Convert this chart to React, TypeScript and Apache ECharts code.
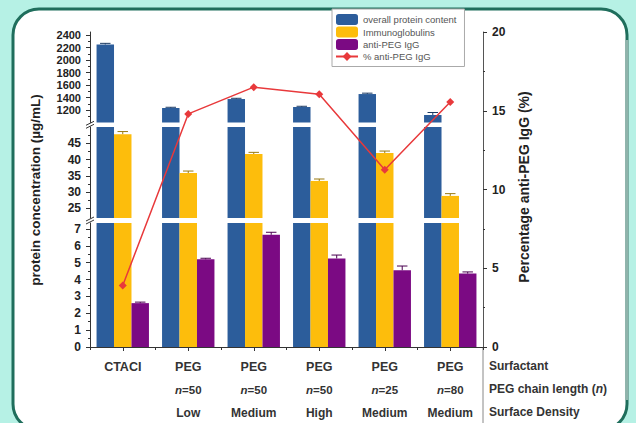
import React, { useEffect, useRef } from "react";
import * as echarts from "echarts";

// Category rows shown under the x axis
const surfactants = ["CTACI", "PEG", "PEG", "PEG", "PEG", "PEG"];
const chainLengths = ["", "50", "50", "50", "25", "80"];
const surfaceDensities = ["", "Low", "Medium", "High", "Medium", "Medium"];

// Protein concentrations (µg/mL)
const overallProtein = [2250, 1232, 1376, 1248, 1456, 1120];
const overallProteinErr = [18, 12, 12, 12, 14, 40];
const immunoglobulins = [47.8, 35.85, 41.7, 33.4, 42.0, 28.8];
const immunoglobulinsErr = [0.8, 0.6, 0.5, 0.6, 0.6, 0.7];
const antiPegIgG = [2.6, 5.2, 6.65, 5.25, 4.55, 4.35];
const antiPegIgGErr = [0.06, 0.06, 0.15, 0.2, 0.25, 0.1];

// Share of anti-PEG IgG (%)
const antiPegPercent = [3.9, 14.8, 16.5, 16.05, 11.25, 15.55];

// Tick values of the three left-axis segments
const upperTicks = [1200, 1400, 1600, 1800, 2000, 2200, 2400];
const upperMinor = [1100, 1300, 1500, 1700, 1900, 2100, 2300];
const middleTicks = [25, 30, 35, 40, 45];
const middleMinor = [27.5, 32.5, 37.5, 42.5, 47.5];
const lowerTicks = [0, 1, 2, 3, 4, 5, 6, 7];
const lowerMinor = [0.5, 1.5, 2.5, 3.5, 4.5, 5.5, 6.5];

const FONT = "'Liberation Sans', Arial, sans-serif";
const BLUE = "#2c5d9b";
const GOLD = "#fdbd0c";
const PURPLE = "#7b0a83";
const RED = "#e8393b";
const AXIS = "#333";

const GRID_LEFT = 90;
const GRID_RIGHT = 153;

// Three stacked segments of the broken left axis + one full-height grid
const segments = [
  { top: 32, height: 90.5, min: 1000, max: 2450, ticks: upperTicks, minor: upperMinor, font: 11 },
  { top: 127, height: 91, min: 22, max: 50, ticks: middleTicks, minor: middleMinor, font: 12 },
  { top: 223, height: 124, min: 0, max: 7.35, ticks: lowerTicks, minor: lowerMinor, font: 12 },
];

const categories = surfactants.map((s, i) =>
  chainLengths[i] ? `${s}\n${chainLengths[i]}\n${surfaceDensities[i]}` : s
);

function errorBars(values: number[], errs: number[], offset: number, color: string, grid: number) {
  return {
    type: "custom",
    xAxisIndex: grid,
    yAxisIndex: grid * 2,
    z: 4,
    data: values.map((v, i) => [i, v, errs[i]]),
    renderItem: (_params: any, api: any) => {
      const idx = api.value(0);
      const val = api.value(1);
      const err = api.value(2);
      const base = api.coord([idx, val]);
      const top = api.coord([idx, val + err]);
      const band = api.size([1, 0])[0];
      const bw = (band * 0.8) / 3;
      const x = base[0] + offset * bw;
      const cap = bw * 0.3;
      return {
        type: "group",
        children: [
          { type: "line", shape: { x1: x, y1: base[1], x2: x, y2: top[1] }, style: { stroke: color, lineWidth: 1 } },
          { type: "line", shape: { x1: x - cap, y1: top[1], x2: x + cap, y2: top[1] }, style: { stroke: color, lineWidth: 1 } },
        ],
      };
    },
  };
}

export default function App() {
  const ref = useRef<HTMLDivElement>(null);

  useEffect(() => {
    if (!ref.current) return;
    const chart = echarts.init(ref.current, undefined, { renderer: "svg" });

    const grids: any[] = segments.map((s) => ({ left: GRID_LEFT, right: GRID_RIGHT, top: s.top, height: s.height }));
    grids.push({ left: GRID_LEFT, right: GRID_RIGHT, top: 32, height: 315 });

    const xAxes: any[] = segments.map((_s, gi) => ({
      type: "category",
      gridIndex: gi,
      data: categories,
      show: gi === 2,
      axisLine: { show: gi === 2, lineStyle: { color: AXIS, width: 1 } },
      axisTick: { show: gi === 2, alignWithLabel: true, length: 4, lineStyle: { color: AXIS } },
      axisLabel: {
        show: gi === 2,
        margin: 8,
        interval: 0,
        formatter: (_v: string, i: number) => {
          const lines = [`{s|${surfactants[i]}}`];
          if (chainLengths[i]) {
            lines.push(`{it|n}{n|=${chainLengths[i]}}`);
            lines.push(`{d|${surfaceDensities[i]}}`);
          }
          return lines.join("\n");
        },
        rich: {
          s: { fontSize: 12.5, fontWeight: "bold", color: "#333", lineHeight: 23, fontFamily: FONT },
          it: { fontSize: 11.5, fontWeight: "bold", fontStyle: "italic", color: "#333", lineHeight: 23, fontFamily: FONT },
          n: { fontSize: 11.5, fontWeight: "bold", color: "#333", lineHeight: 23, fontFamily: FONT },
          d: { fontSize: 12, fontWeight: "bold", color: "#333", lineHeight: 23, fontFamily: FONT },
        },
      },
      splitLine: { show: false },
    }));
    xAxes.push({
      type: "category",
      gridIndex: 3,
      data: categories,
      axisLine: { show: false },
      axisTick: { show: true, length: 3, lineStyle: { color: AXIS } },
      axisLabel: { show: false },
      splitLine: { show: false },
    });

    const yAxes: any[] = [];
    segments.forEach((s, gi) => {
      yAxes.push({
        type: "value",
        gridIndex: gi,
        position: "left",
        min: s.min,
        max: s.max,
        axisLine: { show: true, lineStyle: { color: AXIS, width: 1 } },
        axisTick: { show: true, length: 4, customValues: s.ticks, lineStyle: { color: AXIS } },
        axisLabel: {
          customValues: s.ticks,
          formatter: (v: number) => String(v),
          margin: 9,
          fontSize: s.font,
          lineHeight: s.font,
          fontWeight: "bold",
          color: "#222",
          fontFamily: FONT,
        },
        splitLine: { show: false },
      });
      yAxes.push({
        type: "value",
        gridIndex: gi,
        position: "left",
        min: s.min,
        max: s.max,
        axisLine: { show: false },
        axisTick: { show: true, length: 2, customValues: s.minor, lineStyle: { color: AXIS } },
        axisLabel: { show: false },
        splitLine: { show: false },
      });
    });
    yAxes.push({
      type: "value",
      gridIndex: 3,
      position: "right",
      min: 0,
      max: 20,
      interval: 5,
      axisLine: { show: true, lineStyle: { color: "#555", width: 1 } },
      axisTick: { show: true, length: 4, lineStyle: { color: AXIS } },
      minorTick: { show: true, splitNumber: 2, length: 2, lineStyle: { color: AXIS } },
      axisLabel: { margin: 9, fontSize: 12, fontWeight: "bold", color: "#222", fontFamily: FONT },
      splitLine: { show: false },
      minorSplitLine: { show: false },
    });
    const percentAxis = yAxes.length - 1;

    const barDefs = [
      { name: "overall protein content", data: overallProtein, color: BLUE },
      { name: "Immunoglobulins", data: immunoglobulins, color: GOLD },
      { name: "anti-PEG IgG", data: antiPegIgG, color: PURPLE },
    ];

    const series: any[] = [];
    segments.forEach((_s, gi) => {
      barDefs.forEach((b) => {
        series.push({
          type: "bar",
          name: b.name,
          xAxisIndex: gi,
          yAxisIndex: gi * 2,
          data: b.data,
          barGap: "0%",
          barCategoryGap: "20%",
          clip: true,
          itemStyle: { color: b.color },
          z: 2,
        });
      });
    });
    series.push(errorBars(overallProtein, overallProteinErr, -1, "#1b3a63", 0));
    series.push(errorBars(immunoglobulins, immunoglobulinsErr, 0, "#9a7a10", 1));
    series.push(errorBars(antiPegIgG, antiPegIgGErr, 1, "#4a0050", 2));
    series.push({
      type: "line",
      name: "% anti-PEG IgG",
      xAxisIndex: 3,
      yAxisIndex: percentAxis,
      data: antiPegPercent,
      symbol: "diamond",
      symbolSize: 8,
      lineStyle: { color: RED, width: 1.5 },
      itemStyle: { color: RED },
      z: 6,
    });

    // Break marks on the left axis between segments
    const breakMark = (y: number) => ({
      type: "group",
      z: 10,
      children: [
        { type: "rect", shape: { x: GRID_LEFT - 2, y: y - 2, width: 4, height: 4 }, style: { fill: "#fff" } },
        { type: "line", shape: { x1: GRID_LEFT - 4, y1: y + 0.5, x2: GRID_LEFT + 4, y2: y - 3.5 }, style: { stroke: AXIS, lineWidth: 1 } },
        { type: "line", shape: { x1: GRID_LEFT - 4, y1: y + 3.5, x2: GRID_LEFT + 4, y2: y - 0.5 }, style: { stroke: AXIS, lineWidth: 1 } },
      ],
    });

    const rowText = (y: number, text: string) => ({
      type: "text",
      x: 489,
      y,
      style: {
        text,
        fontSize: 12,
        fontWeight: "bold",
        fontFamily: FONT,
        fill: "#333",
        textVerticalAlign: "middle",
        rich: { it: { fontStyle: "italic", fontSize: 12, fontWeight: "bold", fontFamily: FONT, fill: "#333" } },
      },
    });

    chart.setOption({
      animation: false,
      backgroundColor: "#b6f1e5",
      textStyle: { fontFamily: FONT },
      grid: grids,
      xAxis: xAxes,
      yAxis: yAxes,
      legend: {
        orient: "vertical",
        left: 332,
        top: 9,
        itemWidth: 22,
        itemHeight: 11,
        itemGap: 1.5,
        padding: [5, 8, 5, 3],
        borderColor: "#aaa",
        borderWidth: 1,
        backgroundColor: "#fff",
        textStyle: { fontSize: 9.5, color: "#555", fontFamily: FONT },
        data: ["overall protein content", "Immunoglobulins", "anti-PEG IgG", "% anti-PEG IgG"],
        z: 8,
      },
      graphic: [
        {
          type: "rect",
          z: -10,
          shape: { x: 13, y: 9, width: 614, height: 421, r: 26 },
          style: { fill: "#fff", stroke: "#1f6e5c", lineWidth: 3 },
        },
        {
          type: "line",
          z: -9,
          shape: { x1: 627, y1: 40, x2: 627, y2: 400 },
          style: { stroke: "#8fb3ab", lineWidth: 3 },
        },
        breakMark(124.8),
        breakMark(220.5),
        {
          type: "line",
          shape: { x1: 483, y1: 347, x2: 483, y2: 423 },
          style: { stroke: "#888", lineWidth: 1 },
        },
        rowText(366, "Surfactant"),
        rowText(389, "PEG chain length ({it|n})"),
        rowText(412, "Surface Density"),
        {
          type: "text",
          x: 35,
          y: 190,
          rotation: Math.PI / 2,
          style: {
            text: "protein concentration (µg/mL)",
            fontSize: 13.5,
            fontWeight: "bold",
            fontFamily: FONT,
            fill: "#222",
            textAlign: "center",
            textVerticalAlign: "middle",
          },
        },
        {
          type: "text",
          x: 524,
          y: 187,
          rotation: Math.PI / 2,
          style: {
            text: "Percentage anti-PEG IgG (%)",
            fontSize: 14,
            fontWeight: "bold",
            fontFamily: FONT,
            fill: "#222",
            textAlign: "center",
            textVerticalAlign: "middle",
          },
        },
      ],
      series,
    });

    return () => chart.dispose();
  }, []);

  return <div ref={ref} style={{ position: "fixed", left: 0, top: 0, width: 636, height: 423 }} />;
}
